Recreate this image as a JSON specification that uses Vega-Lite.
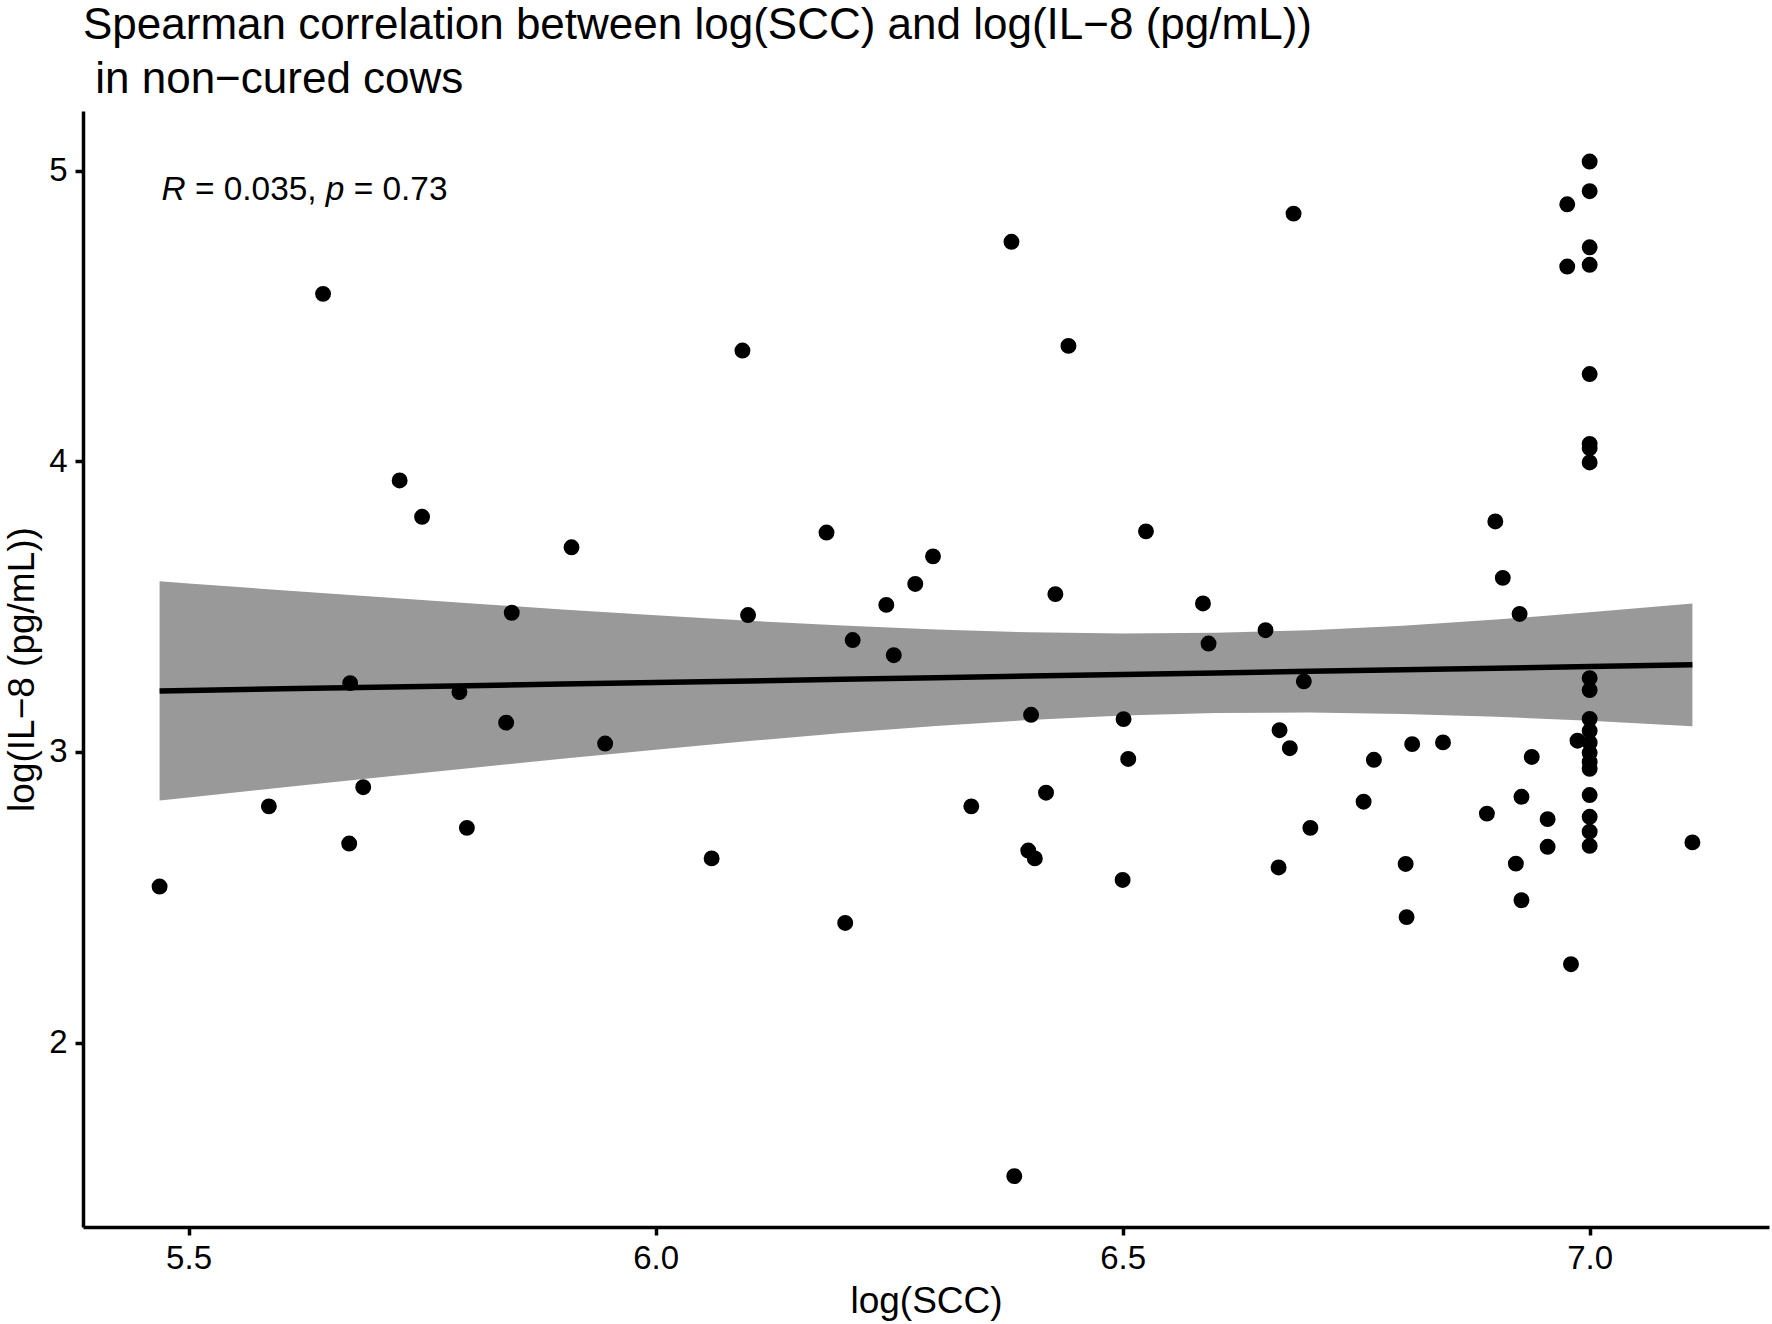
{
  "$schema": "https://vega.github.io/schema/vega-lite/v6.json",
  "width": 1686,
  "height": 1116,
  "autosize": {"type": "none"},
  "padding": {"left": 83, "top": 111, "right": 3, "bottom": 97},
  "background": "white",
  "title": {
    "text": ["Spearman correlation between log(SCC) and log(IL−8 (pg/mL))", "\u200b in non−cured cows"],
    "anchor": "start",
    "frame": "group",
    "font": "Liberation Sans",
    "fontSize": 44,
    "fontWeight": "normal",
    "color": "black",
    "lineHeight": 54,
    "offset": 9.5
  },
  "config": {
    "view": {"stroke": null},
    "axis": {
      "grid": false,
      "domainColor": "black",
      "domainWidth": 3.5,
      "tickColor": "black",
      "tickWidth": 3.5,
      "tickSize": 8,
      "labelFont": "Liberation Sans",
      "labelFontSize": 33,
      "labelColor": "black",
      "titleFont": "Liberation Sans",
      "titleFontSize": 37,
      "titleFontWeight": "normal",
      "titleColor": "black"
    },
    "axisX": {"labelPadding": 7, "titlePadding": 8},
    "axisY": {"labelPadding": 8, "titlePadding": 7}
  },
  "datasets": {
    "pts": [
      {"x": 5.469, "y": 2.537}, {"x": 5.586, "y": 2.813}, {"x": 5.644, "y": 4.576}, {"x": 5.673, "y": 3.237},
      {"x": 5.672, "y": 2.685}, {"x": 5.687, "y": 2.879}, {"x": 5.726, "y": 3.934}, {"x": 5.750, "y": 3.809},
      {"x": 5.790, "y": 3.206}, {"x": 5.798, "y": 2.739}, {"x": 5.840, "y": 3.101}, {"x": 5.846, "y": 3.479},
      {"x": 5.910, "y": 3.704}, {"x": 5.946, "y": 3.029}, {"x": 6.060, "y": 2.634}, {"x": 6.093, "y": 4.381},
      {"x": 6.099, "y": 3.471}, {"x": 6.183, "y": 3.755}, {"x": 6.203, "y": 2.412}, {"x": 6.211, "y": 3.385},
      {"x": 6.247, "y": 3.506}, {"x": 6.255, "y": 3.333}, {"x": 6.278, "y": 3.578}, {"x": 6.297, "y": 3.673},
      {"x": 6.338, "y": 2.813}, {"x": 6.381, "y": 4.755}, {"x": 6.384, "y": 1.541}, {"x": 6.399, "y": 2.661},
      {"x": 6.402, "y": 3.128}, {"x": 6.406, "y": 2.634}, {"x": 6.418, "y": 2.860}, {"x": 6.428, "y": 3.543},
      {"x": 6.442, "y": 4.397}, {"x": 6.501, "y": 3.113}, {"x": 6.500, "y": 2.560}, {"x": 6.506, "y": 2.976},
      {"x": 6.525, "y": 3.759}, {"x": 6.586, "y": 3.511}, {"x": 6.592, "y": 3.373}, {"x": 6.653, "y": 3.419},
      {"x": 6.668, "y": 3.075}, {"x": 6.667, "y": 2.603}, {"x": 6.679, "y": 3.013}, {"x": 6.683, "y": 4.852},
      {"x": 6.694, "y": 3.243}, {"x": 6.701, "y": 2.739}, {"x": 6.758, "y": 2.829}, {"x": 6.769, "y": 2.973},
      {"x": 6.803, "y": 2.615}, {"x": 6.804, "y": 2.432}, {"x": 6.810, "y": 3.027}, {"x": 6.843, "y": 3.033},
      {"x": 6.890, "y": 2.788}, {"x": 6.899, "y": 3.793}, {"x": 6.907, "y": 3.599}, {"x": 6.921, "y": 2.616},
      {"x": 6.925, "y": 3.475}, {"x": 6.927, "y": 2.846}, {"x": 6.927, "y": 2.490}, {"x": 6.938, "y": 2.983},
      {"x": 6.955, "y": 2.769}, {"x": 6.955, "y": 2.674}, {"x": 6.976, "y": 4.884}, {"x": 6.976, "y": 4.670},
      {"x": 6.980, "y": 2.270}, {"x": 6.987, "y": 3.039}, {"x": 7.110, "y": 2.689},
      {"x": 7.0, "y": 5.031}, {"x": 7.0, "y": 4.929}, {"x": 7.0, "y": 4.736}, {"x": 7.0, "y": 4.676},
      {"x": 7.0, "y": 4.300}, {"x": 7.0, "y": 4.060}, {"x": 7.0, "y": 4.045}, {"x": 7.0, "y": 3.996},
      {"x": 7.0, "y": 3.254}, {"x": 7.0, "y": 3.213}, {"x": 7.0, "y": 3.114}, {"x": 7.0, "y": 3.073},
      {"x": 7.0, "y": 3.032}, {"x": 7.0, "y": 2.997}, {"x": 7.0, "y": 2.966}, {"x": 7.0, "y": 2.942},
      {"x": 7.0, "y": 2.852}, {"x": 7.0, "y": 2.777}, {"x": 7.0, "y": 2.726}, {"x": 7.0, "y": 2.677}
    ],
    "band": [
      {"x": 5.469, "fit": 3.2100, "lo": 2.8329, "hi": 3.5871},
      {"x": 5.5, "fit": 3.2117, "lo": 2.8436, "hi": 3.5798},
      {"x": 5.6, "fit": 3.2172, "lo": 2.8778, "hi": 3.5566},
      {"x": 5.7, "fit": 3.2227, "lo": 2.9115, "hi": 3.5339},
      {"x": 5.8, "fit": 3.2281, "lo": 2.9444, "hi": 3.5118},
      {"x": 5.9, "fit": 3.2336, "lo": 2.9767, "hi": 3.4905},
      {"x": 6.0, "fit": 3.2391, "lo": 3.0079, "hi": 3.4703},
      {"x": 6.1, "fit": 3.2446, "lo": 3.0376, "hi": 3.4516},
      {"x": 6.2, "fit": 3.2501, "lo": 3.0651, "hi": 3.4351},
      {"x": 6.3, "fit": 3.2555, "lo": 3.0897, "hi": 3.4213},
      {"x": 6.4, "fit": 3.2610, "lo": 3.1102, "hi": 3.4118},
      {"x": 6.5, "fit": 3.2665, "lo": 3.1255, "hi": 3.4075},
      {"x": 6.6, "fit": 3.2720, "lo": 3.1342, "hi": 3.4098},
      {"x": 6.7, "fit": 3.2775, "lo": 3.1359, "hi": 3.4191},
      {"x": 6.8, "fit": 3.2829, "lo": 3.1311, "hi": 3.4347},
      {"x": 6.9, "fit": 3.2884, "lo": 3.1212, "hi": 3.4556},
      {"x": 7.0, "fit": 3.2939, "lo": 3.1073, "hi": 3.4805},
      {"x": 7.11, "fit": 3.2999, "lo": 3.0886, "hi": 3.5112}
    ],
    "ann_it": [
      {"x": 5.4711, "y": 4.900, "t": "R"},
      {"x": 5.6470, "y": 4.900, "t": "p"}
    ],
    "ann_rm": [
      {"x": 5.5069, "y": 4.900, "t": "= 0.035,"},
      {"x": 5.6768, "y": 4.900, "t": "= 0.73"}
    ]
  },
  "layer": [
    {
      "data": {"name": "band"},
      "mark": {"type": "area", "color": "#999999", "opacity": 1},
      "encoding": {
        "x": {"field": "x", "type": "quantitative", "scale": {"domain": [5.387, 7.192], "nice": false, "zero": false},
              "axis": {"values": [5.5, 6.0, 6.5, 7.0], "format": ".1f", "title": "log(SCC)"}},
        "y": {"field": "lo", "type": "quantitative", "scale": {"domain": [1.366, 5.205], "nice": false, "zero": false},
              "axis": {"values": [2, 3, 4, 5], "format": "d", "title": "log(IL−8 (pg/mL))"}},
        "y2": {"field": "hi"}
      }
    },
    {
      "data": {"name": "band"},
      "mark": {"type": "line", "color": "black", "strokeWidth": 5.5},
      "encoding": {
        "x": {"field": "x", "type": "quantitative", "title": "log(SCC)"},
        "y": {"field": "fit", "type": "quantitative", "title": "log(IL−8 (pg/mL))"}
      }
    },
    {
      "data": {"name": "pts"},
      "mark": {"type": "circle", "color": "black", "opacity": 1, "size": 254},
      "encoding": {
        "x": {"field": "x", "type": "quantitative", "title": "log(SCC)"},
        "y": {"field": "y", "type": "quantitative", "title": "log(IL−8 (pg/mL))"}
      }
    },
    {
      "data": {"name": "ann_it"},
      "mark": {"type": "text", "align": "left", "baseline": "alphabetic", "font": "Liberation Sans", "fontSize": 33.4, "fontStyle": "italic", "color": "black"},
      "encoding": {
        "x": {"field": "x", "type": "quantitative", "title": "log(SCC)"},
        "y": {"field": "y", "type": "quantitative", "title": "log(IL−8 (pg/mL))"},
        "text": {"field": "t"}
      }
    },
    {
      "data": {"name": "ann_rm"},
      "mark": {"type": "text", "align": "left", "baseline": "alphabetic", "font": "Liberation Sans", "fontSize": 33.4, "color": "black"},
      "encoding": {
        "x": {"field": "x", "type": "quantitative", "title": "log(SCC)"},
        "y": {"field": "y", "type": "quantitative", "title": "log(IL−8 (pg/mL))"},
        "text": {"field": "t"}
      }
    }
  ]
}
